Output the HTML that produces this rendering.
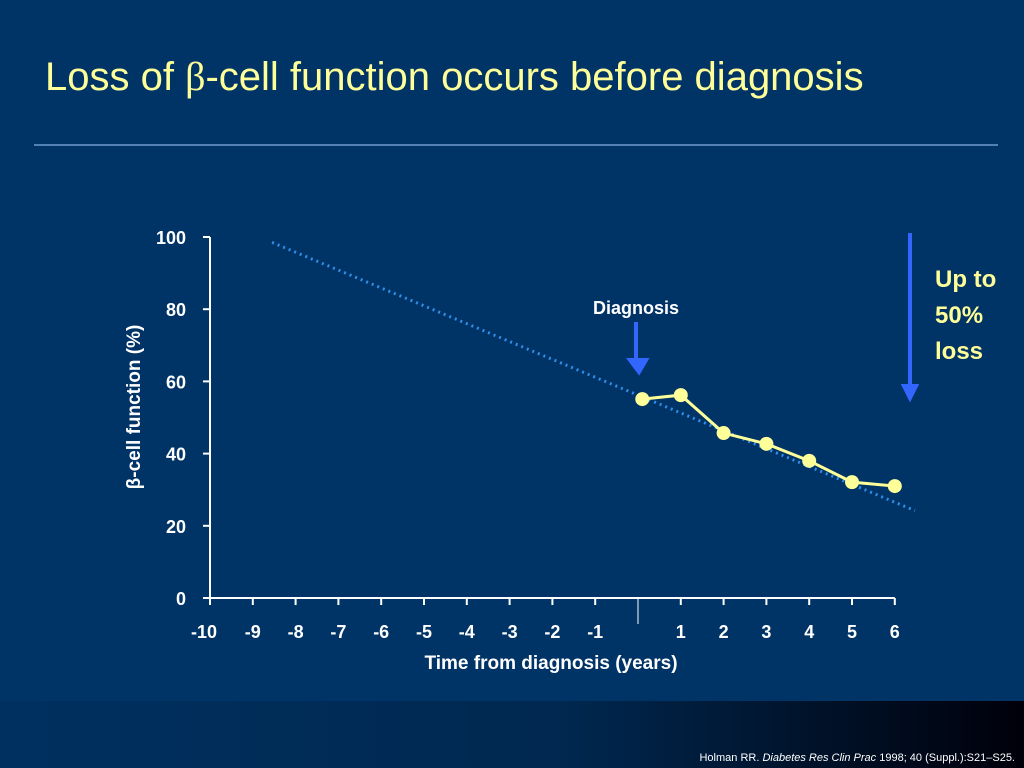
<!DOCTYPE html>
<html><head><meta charset="utf-8"><style>
body{margin:0;width:1024px;height:768px;overflow:hidden;background:#003366;font-family:"Liberation Sans",sans-serif;}
#bg{position:absolute;left:0;top:0;width:1024px;height:768px}
</style></head><body>
<svg id="bg" width="1024" height="768">
<defs><linearGradient id="g" x1="0" x2="1"><stop offset="0" stop-color="#003060"/><stop offset="0.55" stop-color="#002850"/><stop offset="1" stop-color="#00000a"/></linearGradient></defs>
<rect width="1024" height="768" fill="#003366"/>
<rect y="701" width="1024" height="67" fill="url(#g)"/>
<text x="45" y="90" font-size="40" fill="#ffff99">Loss of <tspan font-family="Liberation Serif">β</tspan>-cell function occurs before diagnosis</text>
<line x1="34" y1="145" x2="998" y2="145" stroke="#6f9bd0" stroke-width="1.5"/>
<g id="chart"></g>
<text x="1015" y="761" font-size="11" fill="#fff" text-anchor="end">Holman RR. <tspan font-style="italic">Diabetes Res Clin Prac</tspan> 1998; 40 (Suppl.):S21–S25.</text>
</svg>
<script>
const xTicks=[-10,-9,-8,-7,-6,-5,-4,-3,-2,-1,0,1,2,3,4,5,6];
const xTickLabels=["-10","-9","-8","-7","-6","-5","-4","-3","-2","-1","","1","2","3","4","5","6"];
const yTicks=[0,20,40,60,80,100];
const dataX=[0.1,1,2,3,4,5,6];
const dataY=[55.1,56.2,45.7,42.7,38.0,32.1,31.0];
const trendX=[-8.55,6.47];
const trendY=[98.5,24.2];
const NS="http://www.w3.org/2000/svg";
const X=v=>210+(v+10)*42.8;
const Y=v=>598-v*3.61;
const g=document.getElementById('chart');
function mk(t,a,txt){const e=document.createElementNS(NS,t);for(const k in a)e.setAttribute(k,a[k]);if(txt!==undefined)e.textContent=txt;g.appendChild(e);return e;}
let e;
e=mk('line',{x1:210,y1:Y(100),x2:210,y2:598,stroke:'#fff','stroke-width':2});


e=mk('line',{x1:210,y1:598,x2:X(6),y2:598,stroke:'#fff','stroke-width':2});


yTicks.forEach(v=>{
 e=mk('line',{x1:203,y1:Y(v),x2:210,y2:Y(v),stroke:'#fff','stroke-width':2});
 
 
 e=mk('text',{x:186,y:Y(v)+7,'font-size':18,'font-weight':'bold',fill:'#fff','text-anchor':'end'},String(v));
 
 
});
xTicks.forEach((v,i)=>{
 const len=v===0?26:7;
 e=mk('line',{x1:X(v),y1:598,x2:X(v),y2:598+len,stroke:'#fff','stroke-width':v===0?1:2});
 
 
 e=mk('text',{x:X(v)-(v===-10?6:0),y:638,'font-size':18,'font-weight':'bold',fill:'#fff','text-anchor':'middle'},xTickLabels[i]);
 
 
});
e=mk('text',{x:551,y:669,'font-size':19,'font-weight':'bold',fill:'#fff','text-anchor':'middle'},'Time from diagnosis (years)');


e=mk('text',{x:0,y:0,'font-size':19,'font-weight':'bold',fill:'#fff','text-anchor':'middle',transform:'translate(140,407) rotate(-90)'},'β-cell function (%)');


e=mk('line',{x1:X(trendX[0]),y1:Y(trendY[0]),x2:X(trendX[1]),y2:Y(trendY[1]),stroke:'#2f8fe8','stroke-width':3,'stroke-dasharray':'2 4'});


e=mk('polyline',{points:dataX.map((x,i)=>X(x)+','+Y(dataY[i])).join(' '),fill:'none',stroke:'#ffff99','stroke-width':3});


dataX.forEach((x,i)=>{
 e=mk('circle',{cx:X(x),cy:Y(dataY[i]),r:7,fill:'#ffff99'});
 
 
});
e=mk('text',{x:636,y:314,'font-size':18,'font-weight':'bold',fill:'#fff','text-anchor':'middle'},'Diagnosis');


e=mk('path',{d:'M636,322 V362 M630,360 L639,372 L646,360 Z',stroke:'#3366ff','stroke-width':4,fill:'#3366ff'});


e=mk('path',{d:'M910,233 V388 M904,386 L910,398 L916,386 Z',stroke:'#3366ff','stroke-width':4,fill:'#3366ff'});


['Up to','50%','loss'].forEach((t,i)=>{
 e=mk('text',{x:935,y:287+i*36,'font-size':24,'font-weight':'bold',fill:'#ffff99'},t);
 
 
});
</script>
</body></html>
